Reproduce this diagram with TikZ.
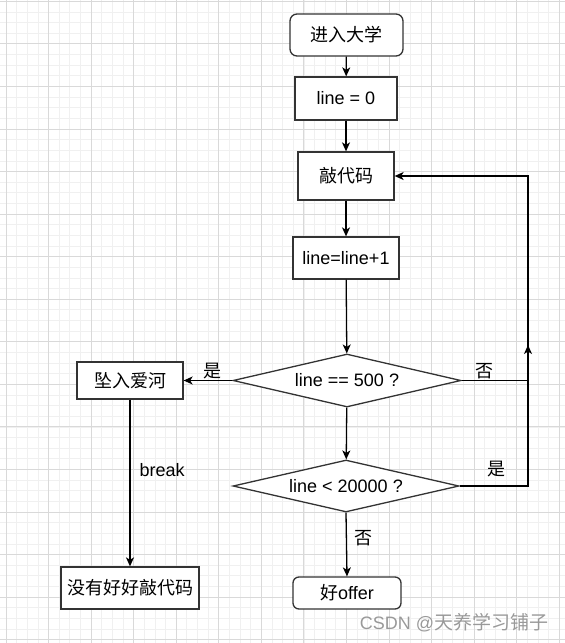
\documentclass[tikz,border=0pt]{standalone}
\usepackage{fontspec}
\setmainfont{Liberation Sans}
\newfontfamily\cjk{Noto Sans CJK SC}
\usetikzlibrary{arrows.meta}
\usetikzlibrary{shapes.geometric}
\definecolor{gridminor}{HTML}{F0F0F0}
\definecolor{gridmajor}{HTML}{D9D9D9}
\definecolor{boxline}{HTML}{333333}

\begin{document}
\begin{tikzpicture}[ x=1pt, y=-1pt, >={Stealth[length=9pt,width=8pt,inset=2.5pt]},
      every node/.style={font=\fontsize{18}{21}\selectfont},
      box/.style={draw=boxline, line width=1.3pt, fill=white, inner sep=0pt},
      roundbox/.style={box, rounded corners=7pt},
      decision/.style={draw=boxline, line width=1.3pt, fill=white, diamond,
        aspect=4.3, inner sep=0pt},
      flow/.style={->, line width=1.3pt},
      tag/.style={inner sep=1pt} ]

      \useasboundingbox (0,0) rectangle (565,643);

      % Grid
      \begin{scope}
        \clip (0,0) rectangle (565,643);
        \foreach \i in {0,...,53} \draw[gridminor, line width=0.8pt]
          (6+\i*10.64,0) -- (6+\i*10.64,643);
        \foreach \i in {0,...,60} \draw[gridminor, line width=0.8pt]
          (0,1.3+\i*10.64) -- (565,1.3+\i*10.64);
        \foreach \i in {0,...,13} \draw[gridmajor, line width=0.9pt]
          (6+\i*42.56,0) -- (6+\i*42.56,643);
        \foreach \i in {0,...,15} \draw[gridmajor, line width=0.9pt]
          (0,1.3+\i*42.56) -- (565,1.3+\i*42.56);
      \end{scope}

      % Steps
      \node[roundbox, minimum width=113pt, minimum height=42pt] (enter) at
      (346.5,35) {\cjk 进入大学};
      \node[box, minimum width=102pt, minimum height=43pt] (init) at
      (346,98.5) {line = 0};
      \node[box, minimum width=96pt, minimum height=48pt] (code) at
      (346,176) {\cjk 敲代码};
      \node[box, minimum width=106pt, minimum height=42pt] (incr) at
      (346,258) {line=line+1};

      % Decisions
      \node[decision, minimum width=228pt, minimum height=53pt] (check1) at
      (347,380.5) {line == 500 ?};
      \node[decision, minimum width=226pt, minimum height=52pt] (check2) at
      (346,486) {line < 20000 ?};

      % Endings
      \node[box, minimum width=106pt, minimum height=37pt] (fall) at
      (130,380.5) {\cjk 坠入爱河};
      \node[box, minimum width=138pt, minimum height=42pt] (nolove) at
      (130,588) {\cjk 没有好好敲代码};
      \node[roundbox, rounded corners=6pt, minimum width=108pt,
        minimum height=32pt] (offer) at (347,593) {{\cjk 好}offer};

      % Loop rail
      \coordinate (rail) at (528,345);

      % Connectors
      \draw[flow] (enter) -- (init);
      \draw[flow] (init) -- (code);
      \draw[flow] (code) -- (incr);
      \draw[flow] (incr) -- (check1);
      \draw[flow] (check1) -- (check2);
      \draw[flow] (check1.west) -- node[tag, above, pos=0.41] {\cjk 是}
      (fall.east);
      \draw[flow] (fall) -- node[tag, right=8pt, pos=0.42] {break} (nolove);
      \draw[flow] (check2.south) -- node[tag, right=6pt, pos=0.4] {\cjk 否}
      (offer.north);
      \draw[flow] (check1.east) -| node[tag, above, pos=0.17] {\cjk 否} (rail)
      |- (code.east);
      \draw[flow] (check2.east) -| node[tag, above=7pt, pos=0.27] {\cjk 是}
      (rail);

      % Watermark
      \node[text=black!40, inner sep=0pt] (mark) at (454,623) {CSDN
        @{\cjk\fontsize{19}{21}\selectfont 天养学习铺子}};
    \end{tikzpicture}
\end{document}
